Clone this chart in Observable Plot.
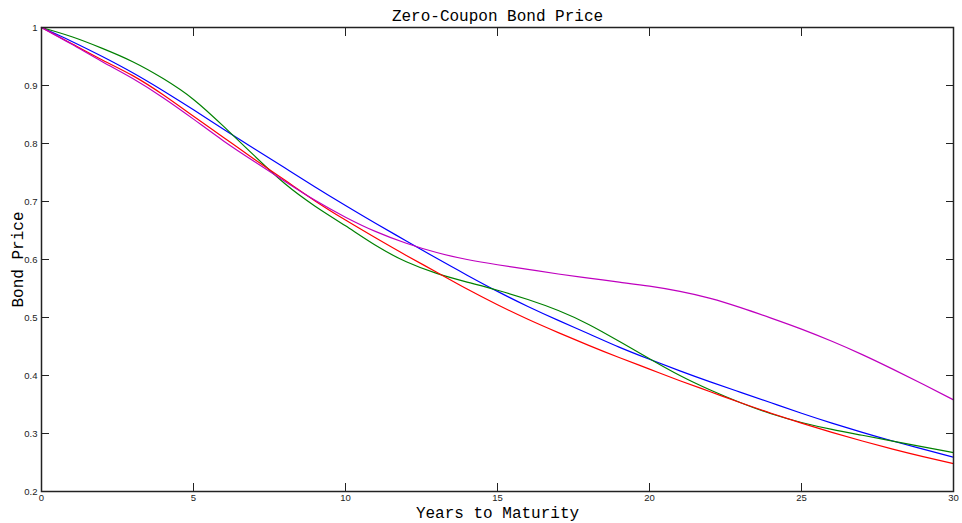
<!DOCTYPE html>
<html><head><meta charset="utf-8">
<script src="https://cdn.jsdelivr.net/npm/d3@7"></script>
<script src="https://cdn.jsdelivr.net/npm/@observablehq/plot@0.6"></script>
<style>body{margin:0;background:#fff;}</style>
</head><body><div id="chart"></div>
<script>
const years = [0,1,2,3,4,5,6,7,8,9,10,11,12,13,14,15,16,17,18,19,20,21,22,23,24,25,26,27,28,29,30];
const curveA = [1.000,0.976,0.950,0.922,0.891,0.858,0.824,0.791,0.758,0.725,0.693,0.662,0.632,0.602,0.573,0.545,0.519,0.495,0.472,0.449,0.428,0.408,0.389,0.371,0.353,0.335,0.318,0.302,0.287,0.273,0.259];
const curveB = [1.000,0.984,0.964,0.941,0.912,0.876,0.829,0.779,0.731,0.692,0.658,0.624,0.596,0.576,0.561,0.547,0.531,0.512,0.488,0.459,0.429,0.400,0.375,0.353,0.334,0.319,0.307,0.297,0.287,0.277,0.267];
const curveC = [1.000,0.972,0.944,0.917,0.884,0.847,0.810,0.773,0.737,0.701,0.668,0.637,0.607,0.578,0.549,0.522,0.497,0.474,0.452,0.431,0.411,0.391,0.372,0.353,0.335,0.318,0.302,0.287,0.273,0.260,0.248];
const curveD = [1.000,0.971,0.941,0.912,0.879,0.842,0.804,0.769,0.735,0.702,0.673,0.648,0.628,0.612,0.600,0.591,0.583,0.575,0.568,0.561,0.554,0.545,0.533,0.517,0.499,0.480,0.459,0.436,0.411,0.385,0.358];
const seriesNames = ["A","B","C","D"];
const seriesColors = ["#0000ff","#008000","#ff0000","#bf00bf"];
const xTicks = [0,5,10,15,20,25,30];
const yTicks = [0.2,0.3,0.4,0.5,0.6,0.7,0.8,0.9,1];
const titleText = "Zero-Coupon Bond Price";
const xLabel = "Years to Maturity";
const yLabel = "Bond Price";

const curves = [curveA, curveB, curveC, curveD];
const rows = curves.flatMap((vals, k) => years.map((t, i) => ({t, v: vals[i], s: seriesNames[k]})));
const mono = "'Liberation Mono', 'Courier New', monospace";
const sans = "'Liberation Sans', Arial, sans-serif";
const fmt = d => String(d);

const plot = Plot.plot({
  width: 962, height: 523,
  marginLeft: 41, marginRight: 9, marginTop: 27, marginBottom: 32,
  style: {fontFamily: sans, fontSize: "10px", color: "#222", background: "#fff"},
  x: {domain: [0, 30]},
  y: {domain: [0.2, 1]},
  color: {domain: seriesNames, range: seriesColors},
  marks: [
    Plot.axisX(xTicks, {anchor: "bottom", tickSize: 0, tickPadding: 3, tickFormat: fmt, label: null, fontSize: 9.5}),
    Plot.axisX(xTicks, {anchor: "bottom", tickSize: -8, tickFormat: () => "", label: null, stroke: "#222"}),
    Plot.axisX(xTicks, {anchor: "top", tickSize: -8, tickFormat: () => "", label: null, stroke: "#222"}),
    Plot.axisY(yTicks, {anchor: "left", tickSize: 0, tickPadding: 4, tickFormat: fmt, label: null, fontSize: 9.5}),
    Plot.axisY(yTicks, {anchor: "left", tickSize: -8, tickFormat: () => "", label: null, stroke: "#222"}),
    Plot.axisY(yTicks, {anchor: "right", tickSize: -8, tickFormat: () => "", label: null, stroke: "#222"}),
    Plot.line(rows, {x: "t", y: "v", z: "s", stroke: "s", strokeWidth: 1.2, curve: "natural"}),
    Plot.frame({stroke: "#222", strokeWidth: 1.5}),
    Plot.text([titleText], {frameAnchor: "top", dy: -12, lineAnchor: "middle", textAnchor: "middle", fontFamily: mono, fontSize: 16, fill: "#000"}),
    Plot.text([xLabel], {frameAnchor: "bottom", dy: 21, lineAnchor: "middle", textAnchor: "middle", fontFamily: mono, fontSize: 16, fill: "#000"}),
    Plot.text([yLabel], {frameAnchor: "left", dx: -24, rotate: -90, lineAnchor: "middle", textAnchor: "middle", fontFamily: mono, fontSize: 16, fill: "#000"})
  ]
});
document.getElementById("chart").appendChild(plot);
</script>
</body></html>
